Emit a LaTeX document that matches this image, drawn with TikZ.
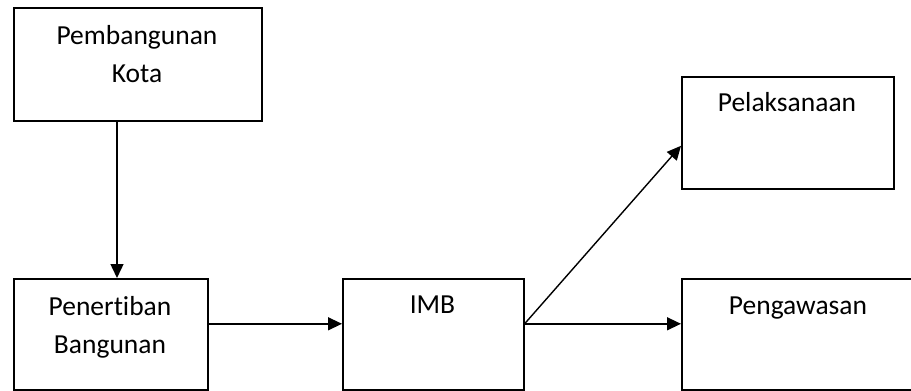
\documentclass[tikz,border=0pt]{standalone}
\usepackage{fontspec}
\setmainfont{Carlito}[Ligatures=NoCommon]
\usetikzlibrary{arrows.meta}
\begin{document}
\begin{tikzpicture}[x=1pt,y=-1pt,
  box/.style={draw=black,line width=1.6pt,inner sep=0pt,anchor=north west},
  txt/.style={font=\fontsize{27.5}{32}\selectfont,inner sep=0pt,anchor=base},
  arr/.style={line width=1.4pt,-{Triangle[length=14pt,width=13pt]}}]
\useasboundingbox (0,0) rectangle (911,391);
\node[box,minimum width=248pt,minimum height=113pt] (A) at (13,7) {};
\node[box,minimum width=194pt,minimum height=111pt] (B) at (13,278) {};
\node[box,minimum width=181pt,minimum height=111pt] (C) at (342,278) {};
\node[box,minimum width=212pt,minimum height=112pt] (D) at (681,76) {};
\node[box,minimum width=234pt,minimum height=111pt] (E) at (681,278) {};
\node[txt] (a1) at (137,44) {Pembangunan};
\node[txt] (a2) at (137,82) {Kota};
\node[txt] (b1) at (110,315) {Penertiban};
\node[txt] (b2) at (110,353) {Bangunan};
\node[txt] (c1) at (432.5,313) {IMB};
\node[txt] (d1) at (787,111) {Pelaksanaan};
\node[txt] (e1) at (798,314) {Pengawasan};
\draw[arr] ([xshift=104pt]A.south west) -- ([xshift=104pt]B.north west);
\draw[arr] ([yshift=10.5pt]B.east) -- ([yshift=10.5pt]C.west);
\draw[arr] ([yshift=10.5pt]C.east) -- ([yshift=10.5pt]E.west);
\draw[arr] ([yshift=10.5pt]C.east) -- ([yshift=-13pt]D.west);
\end{tikzpicture}
\end{document}
